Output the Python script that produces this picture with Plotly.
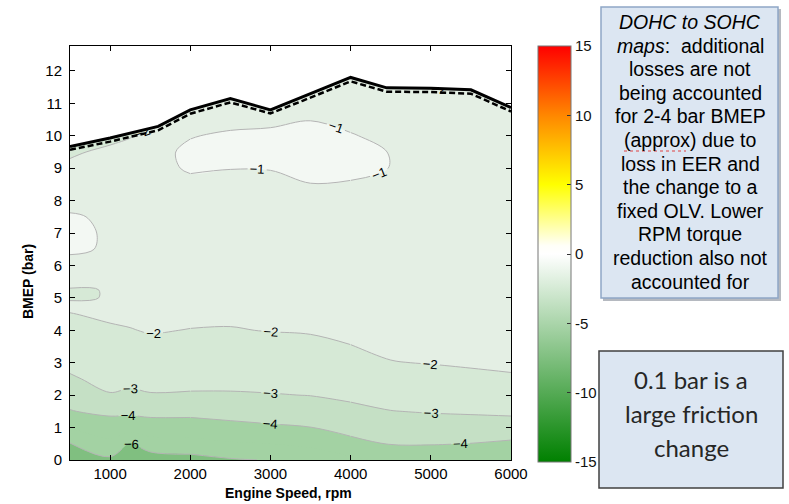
import numpy as np
import plotly.graph_objects as go

# ---- data -----------------------------------------------------------------
# engine speed grid (rpm) and BMEP grid (bar) of the friction-change map
engine_speed = [500, 1000, 1250, 1500, 2000, 2500, 3000, 3500, 4000, 4500, 5000, 5500, 6000]
bmep_grid = [0, 0.5, 1, 1.5, 2, 2.5, 3, 3.5, 4, 4.5, 4.75, 5, 5.25, 5.5,
             6, 6.5, 7, 7.5, 8, 8.5, 9, 9.5, 10, 10.5, 11, 11.5, 12, 12.5]

# change in value (DOHC -> SOHC), one list per engine speed, ordered by bmep_grid
delta_by_speed = [
    [-7.0, -6.05, -5.0, -4.05, -3.6, -3.1, -2.8, -2.5, -2.25, -2.02, -1.9, -2.05, -2.05, -1.8,
     -1.3, -0.85, -0.8, -0.9, -1.3, -1.5, -1.85, -2.1, -3.2, -3.5, -3.5, -3.5, -3.5, -3.5],   # 500
    [-6.2, -5.2, -4.6, -3.75, -3.05, -2.75, -2.5, -2.3, -2.08, -1.9, -1.85, -1.98, -1.98, -1.75,
     -1.5, -1.1, -1.1, -1.15, -1.4, -1.5, -1.6, -1.85, -2.2, -3.0, -3.0, -3.0, -3.0, -3.0],   # 1000
    [-7.0, -6.1, -4.6, -3.8, -3.15, -2.8, -2.5, -2.3, -2.03, -1.85, -1.8, -1.75, -1.75, -1.7,
     -1.55, -1.45, -1.45, -1.45, -1.45, -1.5, -1.55, -1.7, -2.05, -2.8, -3.0, -3.0, -3.0, -3.0],  # 1250
    [-6.6, -5.4, -4.5, -3.7, -3.05, -2.75, -2.45, -2.2, -1.95, -1.8, -1.75, -1.7, -1.7, -1.65,
     -1.6, -1.5, -1.5, -1.5, -1.45, -1.4, -1.3, -1.35, -1.75, -2.4, -2.8, -3.0, -3.0, -3.0],  # 1500
    [-6.4, -5.3, -4.5, -3.7, -3.1, -2.7, -2.4, -2.2, -2.02, -1.85, -1.8, -1.75, -1.72, -1.7,
     -1.6, -1.55, -1.5, -1.45, -1.35, -1.2, -0.9, -0.8, -1.05, -1.5, -2.1, -2.5, -2.5, -2.5],  # 2000
    [-6.1, -5.1, -4.3, -3.6, -3.1, -2.7, -2.45, -2.25, -2.03, -1.9, -1.85, -1.8, -1.75, -1.7,
     -1.65, -1.6, -1.55, -1.5, -1.4, -1.25, -0.98, -0.8, -0.85, -1.3, -1.6, -2.1, -2.5, -2.5],  # 2500
    [-5.95, -5.0, -4.12, -3.6, -3.05, -2.65, -2.4, -2.2, -1.98, -1.85, -1.8, -1.75, -1.7, -1.65,
     -1.6, -1.55, -1.5, -1.45, -1.35, -1.2, -0.97, -0.75, -0.8, -1.2, -1.6, -2.2, -2.5, -2.5],  # 3000
    [-5.6, -4.8, -4.02, -3.5, -2.98, -2.6, -2.35, -2.15, -1.95, -1.82, -1.78, -1.75, -1.7, -1.68,
     -1.62, -1.58, -1.52, -1.45, -1.3, -1.02, -0.75, -0.7, -0.75, -1.02, -1.4, -2.2, -2.5, -2.5],  # 3500
    [-5.2, -4.35, -3.6, -3.2, -2.85, -2.55, -2.3, -2.02, -1.85, -1.75, -1.72, -1.7, -1.68, -1.65,
     -1.6, -1.55, -1.5, -1.45, -1.3, -1.05, -0.85, -0.8, -0.95, -1.2, -1.4, -1.6, -2.2, -2.5],  # 4000
    [-4.8, -3.95, -3.45, -3.02, -2.7, -2.35, -2.03, -1.85, -1.75, -1.7, -1.68, -1.66, -1.64, -1.62,
     -1.6, -1.55, -1.5, -1.45, -1.35, -1.2, -1.01, -1.02, -1.2, -1.35, -1.5, -1.9, -2.5, -2.5],  # 4500
    [-4.7, -3.95, -3.4, -2.95, -2.6, -2.3, -1.97, -1.85, -1.75, -1.7, -1.68, -1.66, -1.64, -1.62,
     -1.6, -1.57, -1.53, -1.5, -1.45, -1.4, -1.35, -1.35, -1.4, -1.5, -1.6, -2.05, -2.5, -2.5],  # 5000
    [-4.8, -4.02, -3.4, -2.9, -2.55, -2.2, -1.9, -1.8, -1.72, -1.68, -1.67, -1.65, -1.64, -1.62,
     -1.6, -1.57, -1.53, -1.5, -1.47, -1.43, -1.4, -1.4, -1.45, -1.5, -1.6, -2.1, -2.5, -2.5],  # 5500
    [-5.0, -4.15, -3.5, -2.8, -2.45, -2.1, -1.85, -1.78, -1.72, -1.68, -1.67, -1.65, -1.64, -1.62,
     -1.6, -1.57, -1.54, -1.5, -1.48, -1.45, -1.42, -1.42, -1.48, -1.6, -2.1, -2.5, -2.5, -2.5],  # 6000
]

# full-load (WOT) BMEP curves
wot_speed = [500, 1000, 1600, 2000, 2500, 3000, 3400, 4000, 4450, 5000, 5500, 6000]
wot_bmep = [9.67, 9.93, 10.29, 10.8, 11.15, 10.8, 11.2, 11.8, 11.48, 11.47, 11.42, 10.87]
wot_bmep_sohc = [9.57, 9.82, 10.17, 10.68, 11.03, 10.69, 11.08, 11.68, 11.36, 11.35, 11.3, 10.75]

x_ticks = [1000, 2000, 3000, 4000, 5000, 6000]
y_ticks = list(range(0, 13))
cbar_ticks = [-15, -10, -5, 0, 5, 10, 15]
line_levels = [-6, -4, -3, -2, -1]

note_lines = [
    "<i>DOHC to SOHC</i>",
    "<i>maps</i>:\u00a0 additional",
    "losses are not",
    "being accounted",
    "for 2-4 bar BMEP",
    "(approx) due to",
    "loss in EER and",
    "the change to a",
    "fixed OLV. Lower",
    "RPM torque",
    "reduction also not",
    "accounted for",
]
note2_lines = ["0.1 bar is a", "large friction", "change"]

# ---- styling ----------------------------------------------------------------
FONT = "Liberation Sans, Arial, sans-serif"
W, H = 789, 504
L, R, T, B = 70, 511, 46, 460          # plot area in pixels
Y_TOP = 12.77

# band colours for the filled levels (start=-8, end=-1, size=1 -> 9 bands)
band_colours = ["#6ab36a", "#80bf80", "#80bf80", "#a3d2a3", "#a3d2a3",
                "#c5e0c5", "#d6e9d6", "#e4efe4", "#f3f8f3"]
fill_scale = [[k / 8, c] for k, c in enumerate(band_colours)]

cbar_scale = [
    [0.0, "rgb(0,128,0)"],
    [0.5, "rgb(255,255,255)"],
    [0.52, "rgb(255,255,248)"],
    [2 / 3, "rgb(255,255,0)"],
    [5 / 6, "rgb(255,135,0)"],
    [1.0, "rgb(255,0,0)"],
]

# speed ranges (column indices) used to draw the labelled contour lines piecewise
line_segments = [(0, 4), (4, 8), (8, 12)]


def px_x(px):
    return (px - L) / (R - L)


def px_y(py):
    return (B - py) / (B - T)


z = np.array(delta_by_speed).T

fig = go.Figure()

fig.add_trace(go.Contour(
    x=engine_speed, y=bmep_grid, z=z,
    autocontour=False,
    contours=dict(start=-8, end=-1, size=1, coloring="fill", showlines=False),
    line=dict(width=0),
    colorscale=fill_scale, showscale=False, hoverinfo="skip",
))

for i0, i1 in line_segments:
    xs = engine_speed[i0:i1 + 1]
    zs = z[:, i0:i1 + 1]
    for lvl in line_levels:
        fig.add_trace(go.Contour(
            x=xs, y=bmep_grid, z=zs,
            autocontour=False,
            contours=dict(start=lvl, end=lvl, size=1, coloring="none",
                          showlabels=True,
                          labelfont=dict(family=FONT, size=13, color="black")),
            line=dict(color="#b4b4b4", width=1),
            showscale=False, hoverinfo="skip",
        ))

# blank out everything above the full-load curve
fig.add_trace(go.Scatter(
    x=wot_speed + [wot_speed[-1], wot_speed[0]],
    y=wot_bmep + [Y_TOP, Y_TOP],
    fill="toself", fillcolor="white", mode="lines", line=dict(width=0),
    hoverinfo="skip", showlegend=False,
))

fig.add_trace(go.Scatter(
    x=wot_speed, y=wot_bmep_sohc, mode="lines",
    line=dict(color="black", width=2.5, dash="6px,3px"),
    hoverinfo="skip", showlegend=False,
))
fig.add_trace(go.Scatter(
    x=wot_speed, y=wot_bmep, mode="lines",
    line=dict(color="black", width=3),
    hoverinfo="skip", showlegend=False,
))

# colour bar for the -15..15 scale
fig.add_trace(go.Scatter(
    x=[None], y=[None], mode="markers",
    marker=dict(color=[0], cmin=-15, cmax=15, colorscale=cbar_scale, showscale=True,
                colorbar=dict(
                    x=px_x(538), xanchor="left", y=px_y(254), yanchor="middle",
                    len=(462 - 46) / (B - T), lenmode="fraction",
                    thickness=33, thicknessmode="pixels", xpad=0, ypad=0,
                    outlinewidth=1, outlinecolor="#777777",
                    ticks="inside", ticklen=4, tickcolor="#333333",
                    tickvals=cbar_ticks, ticktext=[str(v) for v in cbar_ticks],
                    tickfont=dict(family=FONT, size=15, color="#111111"),
                )),
    hoverinfo="skip", showlegend=False,
))

axis_common = dict(
    showline=True, linecolor="black", linewidth=1, mirror="ticks",
    ticks="inside", ticklen=5, tickcolor="black", showgrid=False, zeroline=False,
    tickfont=dict(family=FONT, size=15, color="black"),
)
fig.update_xaxes(range=[500, 6000], tickvals=x_ticks, **axis_common)
fig.update_yaxes(range=[0, Y_TOP], tickvals=y_ticks, ticklabelstandoff=4, **axis_common)

shapes = [
    # note box with drop shadow
    dict(type="rect", xref="paper", yref="paper",
         x0=px_x(603), x1=px_x(781), y0=px_y(301), y1=px_y(9),
         fillcolor="#b5b9c0", line=dict(width=0), layer="above"),
    dict(type="rect", xref="paper", yref="paper",
         x0=px_x(601), x1=px_x(778), y0=px_y(298), y1=px_y(7),
         fillcolor="#dce6f2", line=dict(color="#8ea6c6", width=1.5), layer="above"),
    # spell-check squiggle under "approx"
    dict(type="line", xref="paper", yref="paper",
         x0=px_x(624), x1=px_x(686), y0=px_y(151), y1=px_y(151),
         line=dict(color="#e04040", width=1, dash="dot"), layer="above"),
    # second note box
    dict(type="rect", xref="paper", yref="paper",
         x0=px_x(599), x1=px_x(783), y0=px_y(488), y1=px_y(351),
         fillcolor="#dce6f2", line=dict(color="#404040", width=1.5), layer="above"),
]

annotations = [
    dict(text="BMEP (bar)", xref="paper", yref="paper", x=px_x(28), y=px_y(282),
         textangle=-90, showarrow=False, xanchor="center", yanchor="middle",
         font=dict(family=FONT, size=14, color="black", weight="bold")),
    dict(text="Engine Speed, rpm", xref="paper", yref="paper", x=px_x(288), y=px_y(493),
         showarrow=False, xanchor="center", yanchor="middle",
         font=dict(family=FONT, size=14, color="black", weight="bold")),
]
for i, line in enumerate(note_lines):
    annotations.append(dict(
        text=line, xref="paper", yref="paper", x=px_x(690), y=px_y(22 + 23.6 * i),
        showarrow=False, xanchor="center", yanchor="middle",
        font=dict(family=FONT, size=19.5, color="black")))
for i, line in enumerate(note2_lines):
    annotations.append(dict(
        text=line, xref="paper", yref="paper", x=px_x(691), y=px_y(379 + 34 * i),
        showarrow=False, xanchor="center", yanchor="middle",
        font=dict(family="Lato, Carlito, sans-serif", size=24, color="#262626")))

fig.update_layout(
    width=W, height=H,
    margin=dict(l=L, r=W - R, t=T, b=H - B, autoexpand=False),
    paper_bgcolor="white", plot_bgcolor="white",
    showlegend=False,
    shapes=shapes, annotations=annotations,
)

fig.write_html("out.html")
